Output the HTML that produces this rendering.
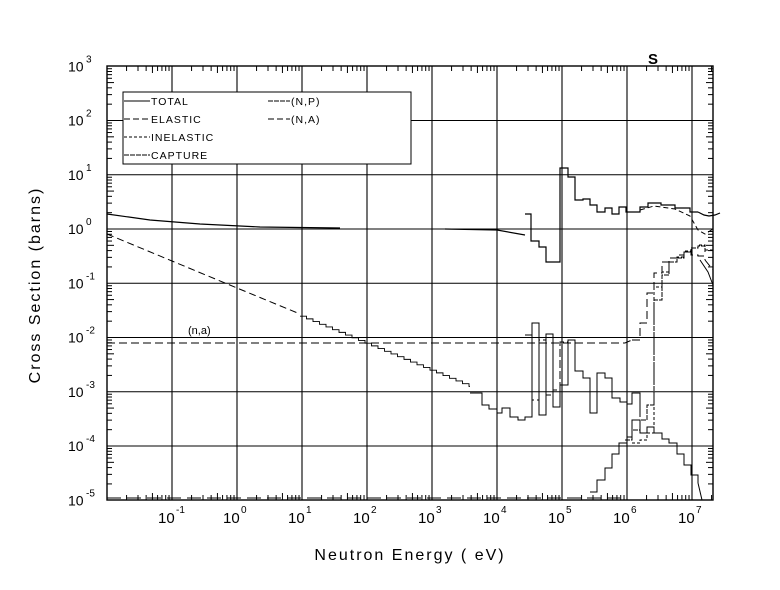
<!DOCTYPE html>
<html><head><meta charset="utf-8"><style>
html,body{margin:0;padding:0;background:#fff;}
svg{display:block;font-family:"Liberation Sans",sans-serif;}
</style></head><body>
<svg id="s" width="780" height="590" xmlns="http://www.w3.org/2000/svg">
<rect width="780" height="590" fill="#fff"/>
<g id="g"></g>
<text x="648" y="64" font-size="15" font-weight="bold">S</text>
<text x="410" y="560" font-size="16" text-anchor="middle" letter-spacing="2">Neutron Energy ( eV)</text>
<text transform="translate(40,285) rotate(-90)" font-size="16" text-anchor="middle" letter-spacing="2">Cross Section (barns)</text>
<text x="188" y="334" font-size="11">(n,a)</text>
<rect x="123" y="92" width="288" height="72" fill="#fff" stroke="#000" stroke-width="1"/>
<g font-size="10.5" letter-spacing="1">
<line x1="124" y1="101" x2="150" y2="101" stroke="#000"/><text x="151" y="105">TOTAL</text>
<line x1="124" y1="119" x2="150" y2="119" stroke="#000" stroke-dasharray="6,3"/><text x="151" y="123">ELASTIC</text>
<line x1="124" y1="137" x2="150" y2="137" stroke="#000" stroke-dasharray="3,2"/><text x="151" y="141">INELASTIC</text>
<line x1="124" y1="155" x2="150" y2="155" stroke="#000" stroke-dasharray="5,1"/><text x="151" y="159">CAPTURE</text>
<line x1="268" y1="101" x2="290" y2="101" stroke="#000" stroke-dasharray="5,1"/><text x="291" y="105">(N,P)</text>
<line x1="268" y1="119" x2="290" y2="119" stroke="#000" stroke-dasharray="6,3"/><text x="291" y="123">(N,A)</text>
</g>
</svg>
<script>
var g=document.getElementById('g');var L=107,R=713,T=66,B=500;
var NS='http://www.w3.org/2000/svg';
function X(e){return 237+65*e;}function Y(v){return 229-54.25*v;}
function el(t,a){var e=document.createElementNS(NS,t);for(var k in a)e.setAttribute(k,a[k]);g.appendChild(e);return e;}
function line(x1,y1,x2,y2,w){el('line',{x1:x1,y1:y1,x2:x2,y2:y2,stroke:'#000','stroke-width':w||1});}
for(var d=-1;d<=7;d++){line(X(d),T,X(d),B,1.1);}
for(var d=-4;d<=2;d++){line(L,Y(d),R,Y(d),1.1);}
el('rect',{x:L,y:T,width:R-L,height:B-T,fill:'none',stroke:'#000','stroke-width':1.4});
for(var d=-2;d<=7;d++)for(var m=2;m<=9;m++){var x=X(d+Math.log10(m));if(x>L&&x<R){var h=(m==5?7:5);line(x,T,x,T+h);line(x,B,x,B-h);}}
for(var d=-5;d<=2;d++)for(var m=2;m<=9;m++){var y=Y(d+Math.log10(m));var h=(m==5?7:5);line(L,y,L+h,y);line(R,y,R-h,y);}
for(var d=-5;d<=3;d++){var y=Y(d)+5;el('text',{x:68,y:y,'font-size':14}).textContent='10';el('text',{x:86,y:y-9,'font-size':10}).textContent=d;}
for(var d=-1;d<=7;d++){var x=X(d);el('text',{x:x-14,y:523,'font-size':15}).textContent='10';el('text',{x:x+4,y:513,'font-size':10}).textContent=d;}
function pl(pts,dash,w){el('polyline',{points:pts.map(function(p){return p[0]+','+p[1]}).join(' '),fill:'none',stroke:'#000','stroke-width':w||1,'stroke-dasharray':dash||'none'});}
function steps(xs,ys){var p=[];for(var i=0;i<ys.length;i++){p.push([xs[i],ys[i]]);p.push([xs[i+1],ys[i]]);}return p;}
pl([[107,214],[150,220],[200,224],[260,227],[340,228]],null,1.2);
pl([[445,229],[497,230],[525,235]],null,1.2);
pl(steps([525,531,539,546,560,568,575,583,590,597,605,612,619,626,640,648,661,675,690,698],[214,241,247,262,168,177,200,199,205,212,208,214,207,212,207,203,205,208,212]),null,1.2);
pl([[698,212],[704,215],[709,216],[715,215],[720,213]],null,1.2);
pl([[640,210],[654,206],[675,209],[690,216],[698,230],[705,234],[713,229]],'5,3');
// capture low energy
pl([[107,234],[172,261],[237,288],[300,314]],'7,4');
var sx=[],sy=[];for(var x=300;x<=470;x+=6.5){sx.push(x);sy.push(234+27*((x-107)/65)+2);}
sx.push(470);
pl(steps(sx,sy.slice(0,sx.length-1)),null,0.9);
pl(steps([470,482,489,497,502,510,518,525,532,539,546,553,560,568,575,583,590,597,605,612,620,627,632,640],[393,405,409,413,408,417,420,417,323,415,334,407,385,340,371,378,413,373,378,398,402,404,393,417]),null,1);
pl(steps([525,532,539,546,553,560,568],[335,400,340,395,390,342]),'8,3');
pl([[107,343],[625,343],[632,340]],'8,4');
pl(steps([632,640,647,654,662,669,677,684,691,698,705],[340,323,293,273,262,258,255,252,255,256,260]),'8,4');
pl([[705,260],[713,270]],'8,4');
pl(steps([632,640,647,654,662,669,677,684,691,698,705],[443,440,433,287,272,262,257,251,248,245,252]),'3,2');
pl([[705,250],[713,250]],'3,2');
pl(steps([625,632,640,647,654,662,669,677,684,691,698,705],[440,430,420,405,300,275,262,258,252,248,246,250]),'5,1');
pl([[700,260],[708,272],[713,285]],null,1);
pl([[107,498],[620,498]],'14,6');
pl(steps([590,597,605,612,619,627,632,640,647,654,662,669,677,684,691,698],[492,480,468,454,443,437,420,433,427,433,439,443,454,465,475,483]),null,1);
pl([[698,483],[702,500]],null,1);
</script>
</body></html>
